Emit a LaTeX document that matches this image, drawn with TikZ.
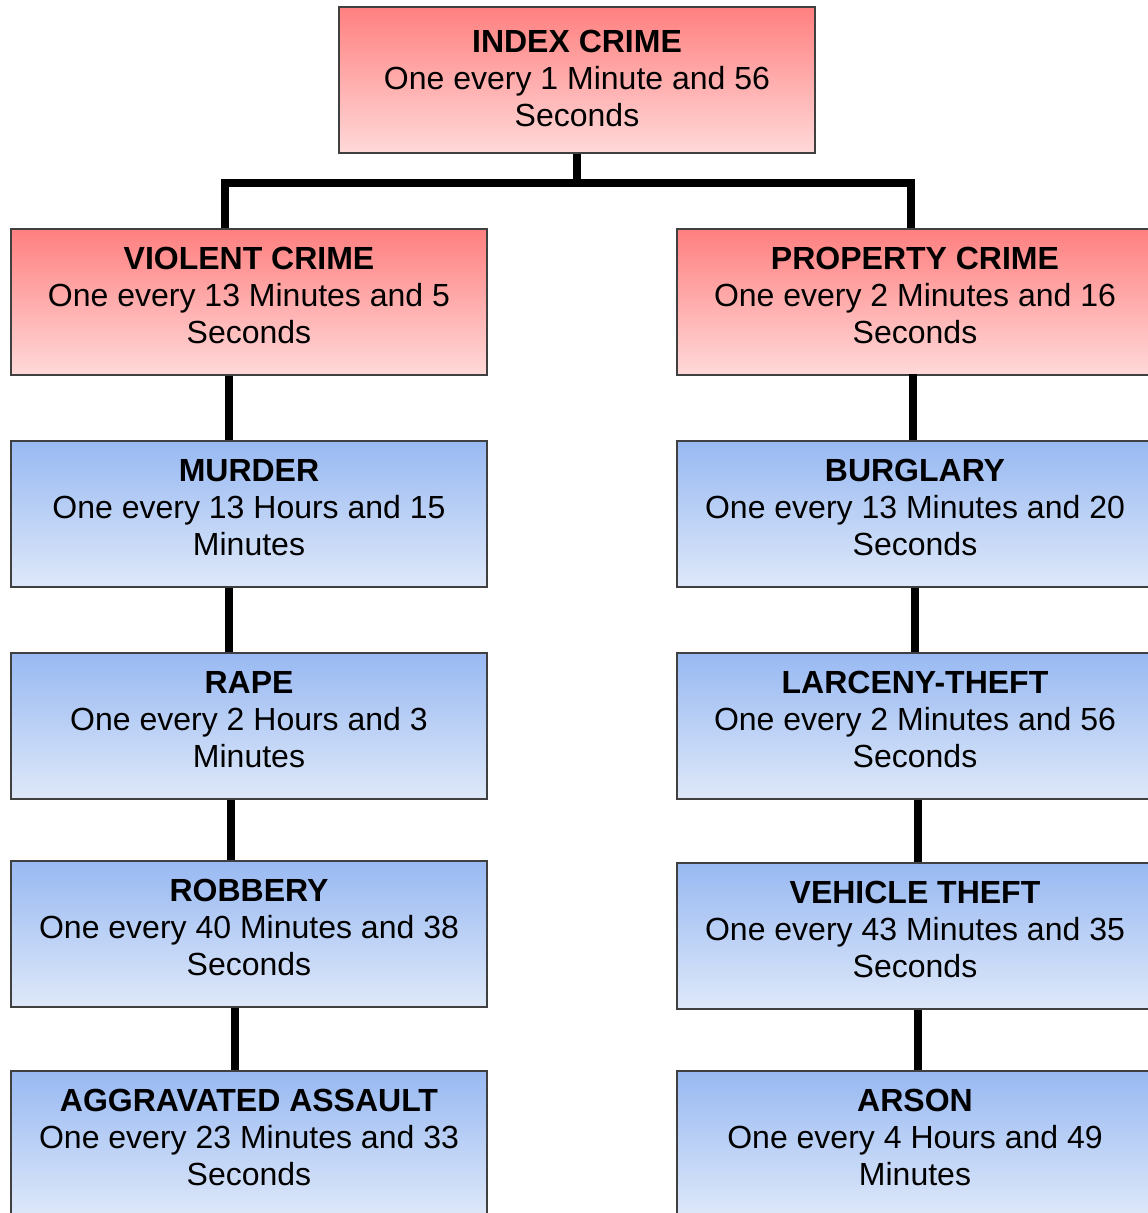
\documentclass[tikz,border=0pt]{standalone}
\usepackage{fontspec}
\setmainfont{Liberation Sans}
\newcommand{\bxtxt}[4]{\raisebox{#1}[0pt][0pt]{\begin{tabular}{@{}c@{}}\textbf{#2}\\#3\\#4\end{tabular}}}
\begin{document}
\begin{tikzpicture}[x=1pt,y=-1pt,
  box/.style={draw=black!75, line width=1.2pt, minimum width=476pt, minimum height=146pt,
    inner sep=0pt, font=\fontsize{32}{37}\selectfont},
  redbox/.style={box, top color=red!50, bottom color=red!15},
  bluebox/.style={box, top color={rgb,255:red,152;green,185;blue,242}, bottom color={rgb,255:red,222;green,232;blue,249}},
  link/.style={line width=8pt, black}]
\useasboundingbox (0,0) rectangle (1148,1213);
\clip (0,0) rectangle (1148,1213);
% nodes
\node[redbox] (index) at (577,80) {\bxtxt{-8pt}{INDEX CRIME}{One every 1 Minute and 56}{Seconds}};
\node[redbox] (violent) at (249,302) {\bxtxt{-3pt}{VIOLENT CRIME}{One every 13 Minutes and 5}{Seconds}};
\node[redbox] (property) at (915,302) {\bxtxt{-3pt}{PROPERTY CRIME}{One every 2 Minutes and 16}{Seconds}};
\node[bluebox] (murder) at (249,514) {\bxtxt{-3pt}{MURDER}{One every 13 Hours and 15}{Minutes}};
\node[bluebox] (rape) at (249,726) {\bxtxt{-3pt}{RAPE}{One every 2 Hours and 3}{Minutes}};
\node[bluebox] (robbery) at (249,934) {\bxtxt{-3pt}{ROBBERY}{One every 40 Minutes and 38}{Seconds}};
\node[bluebox] (assault) at (249,1144) {\bxtxt{-3pt}{AGGRAVATED ASSAULT}{One every 23 Minutes and 33}{Seconds}};
\node[bluebox] (burglary) at (915,514) {\bxtxt{-3pt}{BURGLARY}{One every 13 Minutes and 20}{Seconds}};
\node[bluebox] (larceny) at (915,726) {\bxtxt{-3pt}{LARCENY-THEFT}{One every 2 Minutes and 56}{Seconds}};
\node[bluebox] (vehicle) at (915,936) {\bxtxt{-3pt}{VEHICLE THEFT}{One every 43 Minutes and 35}{Seconds}};
\node[bluebox] (arson) at (915,1144) {\bxtxt{-3pt}{ARSON}{One every 4 Hours and 49}{Minutes}};
% connectors
\coordinate (hub) at (577,183);
\draw[link] (index.south) -- (hub);
\draw[link] ([xshift=4pt]hub) -| ([xshift=-24pt]violent.north);
\draw[link] ([xshift=-4pt]hub) -| ([xshift=-4pt]property.north);
\draw[link] ([xshift=-20pt]violent.south) -- ([xshift=-20pt]murder.north);
\draw[link] ([xshift=-20pt]murder.south) -- ([xshift=-20pt]rape.north);
\draw[link] ([xshift=-18pt]rape.south) -- ([xshift=-18pt]robbery.north);
\draw[link] ([xshift=-14pt]robbery.south) -- ([xshift=-14pt]assault.north);
\draw[link] ([xshift=-2pt,yshift=2pt]property.south) -- ([xshift=-2pt]burglary.north);
\draw[link] (burglary.south) -- (larceny.north);
\draw[link] ([xshift=3pt]larceny.south) -- ([xshift=3pt]vehicle.north);
\draw[link] ([xshift=3pt]vehicle.south) -- ([xshift=3pt]arson.north);
\end{tikzpicture}
\end{document}
